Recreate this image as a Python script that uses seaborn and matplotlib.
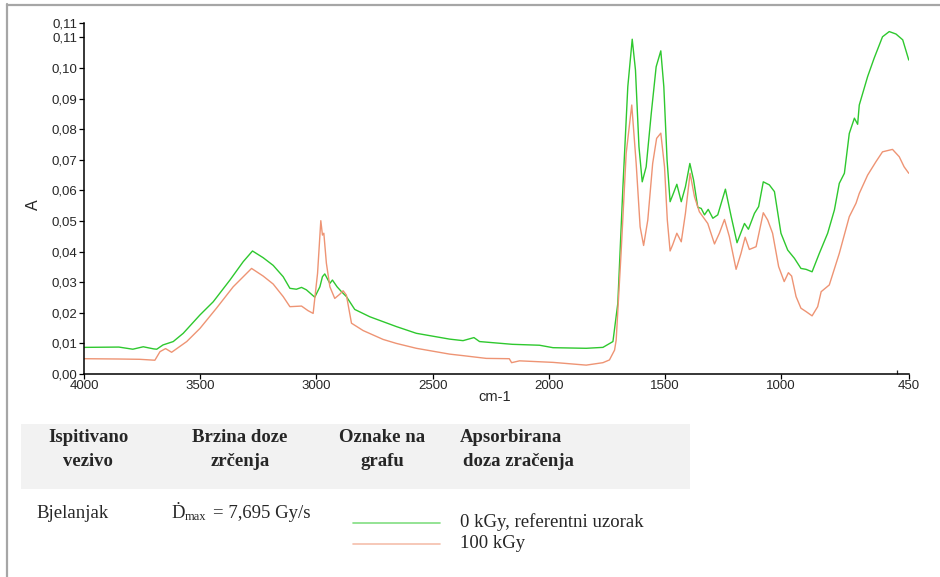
import numpy as np
import pandas as pd
import matplotlib
matplotlib.use("Agg")
import matplotlib.pyplot as plt
from matplotlib.lines import Line2D
from matplotlib.patches import Rectangle
import seaborn as sns

# FTIR spectra (wavenumber cm-1, absorbance A)
wn_ref = [4000, 3850, 3790, 3745, 3700, 3687, 3660, 3616, 3573, 3501,
          3444, 3372, 3315, 3275, 3229, 3186, 3143, 3114, 3086, 3064,
          3043, 3007, 2985, 2974, 2964, 2954, 2942, 2931, 2911, 2892,
          2871, 2835, 2770, 2656, 2570, 2427, 2369, 2322, 2298, 2157,
          2040, 1982, 1839, 1767, 1724, 1703, 1681, 1660, 1641, 1627,
          1612, 1598, 1581, 1559, 1538, 1518, 1505, 1491, 1478, 1464,
          1449, 1430, 1412, 1393, 1377, 1359, 1344, 1330, 1314, 1294,
          1273, 1240, 1215, 1190, 1158, 1141, 1115, 1097, 1077, 1051,
          1029, 1001, 972, 943, 915, 893, 867, 836, 800, 771,
          750, 728, 707, 685, 671, 664, 628, 600, 564, 535,
          506, 477, 451]
a_ref = [.0087, .0088, .0081, .0089, .0082, .0081, .0095, .0106, .0133, .0193,
         .0236, .0307, .0367, .0402, .0380, .0355, .0318, .0280, .0277, .0283,
         .0275, .0251, .0285, .0318, .0327, .0313, .0296, .0307, .0285, .0269,
         .0253, .0211, .0187, .0155, .0133, .0114, .0109, .0119, .0106, .0097,
         .0094, .0086, .0084, .0087, .0106, .0231, .0612, .0939, .1094, .0993,
         .0743, .0628, .0677, .0852, .1004, .1056, .0939, .0699, .0563, .0590,
         .0620, .0563, .0612, .0688, .0634, .0545, .0541, .0520, .0538, .0509,
         .0520, .0604, .0514, .0429, .0492, .0473, .0525, .0547, .0628, .0618,
         .0596, .0460, .0405, .0378, .0345, .0342, .0334, .0394, .0460, .0536,
         .0623, .0656, .0786, .0836, .0816, .0879, .0972, .1032, .1102, .1119,
         .1111, .1092, .1026]

wn_100 = [4000, 3850, 3760, 3695, 3673, 3649, 3623, 3558, 3501, 3430,
          3358, 3279, 3229, 3186, 3143, 3114, 3064, 3036, 3014, 2995,
          2981, 2974, 2968, 2957, 2942, 2921, 2899, 2885, 2871, 2849,
          2799, 2713, 2656, 2570, 2427, 2369, 2269, 2170, 2160, 2126,
          1982, 1839, 1767, 1739, 1717, 1710, 1689, 1667, 1643, 1624,
          1607, 1592, 1574, 1553, 1536, 1518, 1502, 1490, 1478, 1467,
          1449, 1430, 1412, 1392, 1373, 1352, 1316, 1287, 1266, 1244,
          1223, 1194, 1173, 1155, 1137, 1108, 1077, 1058, 1037, 1011,
          987, 969, 955, 936, 915, 893, 867, 843, 828, 793,
          750, 707, 678, 664, 628, 592, 564, 521, 492, 471,
          451]
a_100 = [.0050, .0049, .0048, .0045, .0073, .0083, .0071, .0106, .0149, .0215,
         .0285, .0345, .0320, .0294, .0253, .0220, .0222, .0207, .0198, .0329,
         .0501, .0454, .0460, .0362, .0285, .0247, .0261, .0272, .0258, .0166,
         .0142, .0113, .0100, .0084, .0065, .0060, .0051, .0050, .0037, .0043,
         .0038, .0029, .0037, .0046, .0078, .0111, .0394, .0721, .0879, .0688,
         .0481, .0420, .0503, .0688, .0770, .0787, .0677, .0503, .0402, .0422,
         .0460, .0432, .0525, .0656, .0579, .0530, .0492, .0425, .0460, .0505,
         .0449, .0342, .0394, .0447, .0407, .0416, .0527, .0503, .0460, .0351,
         .0302, .0331, .0320, .0253, .0215, .0204, .0190, .0220, .0269, .0291,
         .0394, .0514, .0558, .0590, .0650, .0694, .0726, .0734, .0710, .0677,
         .0656]

series_labels = ["0 kGy, referentni uzorak", "100 kGy"]
series_colors = ["#2ec82e", "#ee9474"]
x_ticks = [4000, 3500, 3000, 2500, 2000, 1500, 1000, 450]
y_ticks = [0.00, 0.01, 0.02, 0.03, 0.04, 0.05, 0.06, 0.07, 0.08, 0.09, 0.10, 0.11, 0.1148]

sns.set_style("ticks")
plt.rcParams["font.family"] = ["Liberation Sans", "DejaVu Sans"]

W, H = 940, 577


def px(x, y):
    # pixel position (from top-left) -> figure fraction
    return x / W, 1 - y / H


df = pd.concat([
    pd.DataFrame({"wn": wn_ref, "A": a_ref, "uzorak": series_labels[0]}),
    pd.DataFrame({"wn": wn_100, "A": a_100, "uzorak": series_labels[1]}),
])

fig = plt.figure(figsize=(W / 100, H / 100), dpi=100)
ax = fig.add_axes([84 / W, 1 - 374 / H, (909 - 84) / W, (374 - 22.7) / H])

sns.lineplot(data=df, x="wn", y="A", hue="uzorak", palette=series_colors,
             linewidth=1.0, legend=False, sort=False, ax=ax)

ax.set_xlim(4000, 450)
ax.set_ylim(0, 0.1148)
ax.set_xticks(x_ticks)
ax.set_xticklabels([str(t) for t in x_ticks], fontsize=9.5)
ax.set_xticks([500], minor=True)
ax.set_yticks(y_ticks)
ax.set_yticklabels([f"{t:.2f}".replace(".", ",") for t in y_ticks], fontsize=9.5)
ax.tick_params(axis="both", which="major", length=3.5, width=0.9, pad=1, color="black")
ax.tick_params(axis="x", which="minor", direction="in", length=3, width=0.9)
sns.despine(ax=ax)
for s in ["left", "bottom"]:
    ax.spines[s].set_linewidth(1.1)
    ax.spines[s].set_color("black")
ax.set_xlabel("")
ax.set_ylabel("")
fig.text(*px(495, 397), "cm-1", fontsize=10.5, ha="center", va="center")
fig.text(*px(33, 205), "A", fontsize=11.5, ha="center", va="center", rotation=90)

# page frame
fig.add_artist(Line2D([7 / W, 7 / W], [0, 1 - 4 / H], color="#a6a6a6", lw=1.6))
fig.add_artist(Line2D([7 / W, 1], [1 - 5 / H, 1 - 5 / H], color="#a6a6a6", lw=1.6))

# table under the chart
x0, y0 = px(20.5, 489)
fig.add_artist(Rectangle((x0, y0), (690 - 20.5) / W, (489 - 424) / H,
                         transform=fig.transFigure, facecolor="#f2f2f2", edgecolor="none"))
serif = ["Liberation Serif", "DejaVu Serif"]
hdr = dict(fontsize=13.5, fontweight="bold", family=serif, va="center")
fig.text(*px(88, 437), "Ispitivano", ha="center", **hdr)
fig.text(*px(88, 461), "vezivo", ha="center", **hdr)
fig.text(*px(240, 437), "Brzina doze", ha="center", **hdr)
fig.text(*px(240, 461), "zrčenja", ha="center", **hdr)
fig.text(*px(382, 437), "Oznake na", ha="center", **hdr)
fig.text(*px(382, 461), "grafu", ha="center", **hdr)
fig.text(*px(460, 437), "Apsorbirana", ha="left", **hdr)
fig.text(*px(463, 461), "doza zračenja", ha="left", **hdr)

row = dict(fontsize=13.5, family=serif, va="center")
fig.text(*px(36, 514), "Bjelanjak", ha="left", **row)
fig.text(*px(171, 514), "Ḋ", ha="left", **row)
fig.text(*px(185, 517), "max", ha="left", fontsize=9, family=serif, va="center")
fig.text(*px(213, 514), "= 7,695 Gy/s", ha="left", **row)

leg_y = [523, 544]
for lab, col, yy in zip(series_labels, series_colors, leg_y):
    xa, ya = px(353, yy)
    xb, _ = px(440, yy)
    fig.add_artist(Line2D([xa, xb], [ya, ya], color=col, lw=1.2, alpha=0.6))
    fig.text(*px(460, yy - 1), lab, ha="left", **row)

fig.savefig("out.png", dpi=100)
